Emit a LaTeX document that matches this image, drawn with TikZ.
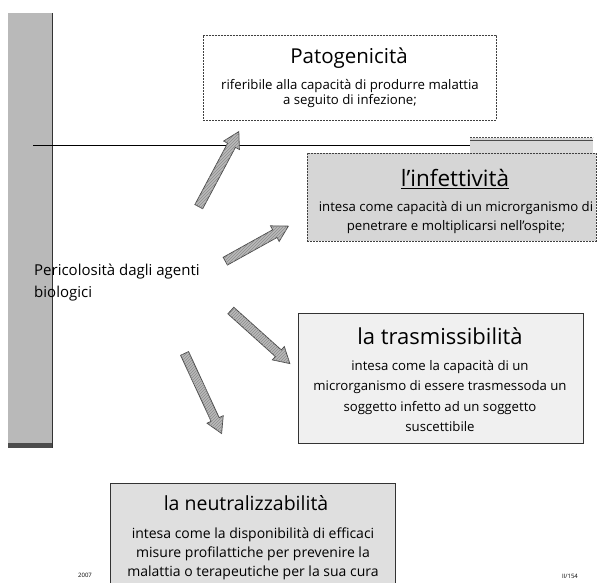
\documentclass[tikz,border=0pt]{standalone}
\usepackage{fontspec}
\setmainfont{Open Sans}
\usetikzlibrary{shapes.arrows,calc,patterns}
\tikzset{
  px/.style={x=1pt,y=-1pt},
  boxbase/.style={inner sep=0pt, anchor=north west, line width=0.9pt},
  dashbox/.style={boxbase, draw=black!75, dash pattern=on 2pt off 1pt},
  solidbox/.style={boxbase, draw=black!80},
  titletext/.style={inner sep=0pt, font=\fontsize{20.5}{24}\selectfont},
  bodytext/.style={inner sep=0pt, align=center, font=\fontsize{13.2}{#1}\selectfont},
  fatarrow/.style={single arrow, draw=black!70, line width=0.8pt, fill=gray!55,
    postaction={pattern=north east lines, pattern color=black!45},
    inner xsep=0pt, inner ysep=4pt, text height=0pt, text depth=0pt,
    single arrow head extend=4.5pt, single arrow tip angle=60, minimum width=0pt},
  smalltext/.style={inner sep=0pt, font=\fontsize{6}{7}\selectfont}
}
\begin{document}
\begin{tikzpicture}[px]
\useasboundingbox (0,0) rectangle (600,582);
\clip (0,0) rectangle (600,582);
% left bar
\fill[gray!55] (8,13) rectangle (52,448);
\draw[black!80, line width=1pt] (52,13) -- (52,448);
\fill[black!70] (8,443) rectangle (52,448);
% horizontal line and partial strip
\draw[line width=1pt] (33,145) -- (470,145);
\fill[gray!30] (470,138) rectangle (593,153);
\draw[black!70, dash pattern=on 2pt off 1pt] (470,137) -- (593,137);
\draw[black!70] (470,140.5) -- (593,140.5);
% Patogenicita
\node[dashbox, fill=white, minimum width=293pt, minimum height=85pt] (pbox) at (203,35) {};
\node[titletext] (ptitle) at (349,58) {Patogenicità};
\node[bodytext=15pt] (pbody) at (350,94) {riferibile alla capacità di produrre malattia\\a seguito di infezione;};
% Infettivita
\node[dashbox, fill=gray!32, minimum width=289pt, minimum height=88pt] (ibox) at (307,153) {};
\node[titletext, font=\fontsize{22.5}{26}\selectfont] (ititle) at (455,179) {\underline{l'infettività}};
\node[bodytext=19pt] (ibody) at (456,218) {intesa come capacità di un microrganismo di\\penetrare e moltiplicarsi nell'ospite;};
% Trasmissibilita
\node[solidbox, fill=gray!12, minimum width=285pt, minimum height=130pt] (tbox) at (298,313) {};
\node[titletext, font=\fontsize{22}{25}\selectfont] (ttitle) at (440,336) {la trasmissibilità};
\node[bodytext=20.5pt] (tbody) at (440,396) {intesa come la capacità di un\\microrganismo di essere trasmessoda un\\soggetto infetto ad un soggetto\\suscettibile};
% Neutralizzabilita
\node[solidbox, fill=gray!25, minimum width=285pt, minimum height=130pt] (nbox) at (110,483) {};
\node[titletext, font=\fontsize{19.5}{23}\selectfont] (ntitle) at (246,503) {la neutralizzabilità};
\node[bodytext=19pt, font=\fontsize{14}{19}\selectfont] (nbody) at (253,554) {intesa come la disponibilità di efficaci\\misure profilattiche per prevenire la\\malattia o terapeutiche per la sua cura};
% label
\node[inner sep=0pt, anchor=north west, align=left, font=\fontsize{15}{22}\selectfont] (lbl) at (34,264) {Pericolosità dagli agenti\\biologici};
% arrows
\coordinate (a1s) at (197,210); \coordinate (a1e) at (237,135);
\coordinate (a2s) at (222,263); \coordinate (a2e) at (285,228);
\coordinate (a3s) at (228,308); \coordinate (a3e) at (287,361);
\coordinate (a4s) at (183,350); \coordinate (a4e) at (220,430);
\path let \p1=($(a1e)-(a1s)$), \n1={veclen(\x1,\y1)} in (a1s) -- (a1e) node[fatarrow, midway, sloped, minimum height=\n1] (arr1) {};
\path let \p1=($(a2e)-(a2s)$), \n1={veclen(\x1,\y1)} in (a2s) -- (a2e) node[fatarrow, midway, sloped, minimum height=\n1] (arr2) {};
\path let \p1=($(a3e)-(a3s)$), \n1={veclen(\x1,\y1)} in (a3s) -- (a3e) node[fatarrow, midway, sloped, minimum height=\n1] (arr3) {};
\path let \p1=($(a4e)-(a4s)$), \n1={veclen(\x1,\y1)} in (a4s) -- (a4e) node[fatarrow, midway, sloped, minimum height=\n1] (arr4) {};
% footer
\node[smalltext] (yr) at (85,575) {2007};
\node[smalltext] (pg) at (570,576) {II/154};
\end{tikzpicture}
\end{document}
